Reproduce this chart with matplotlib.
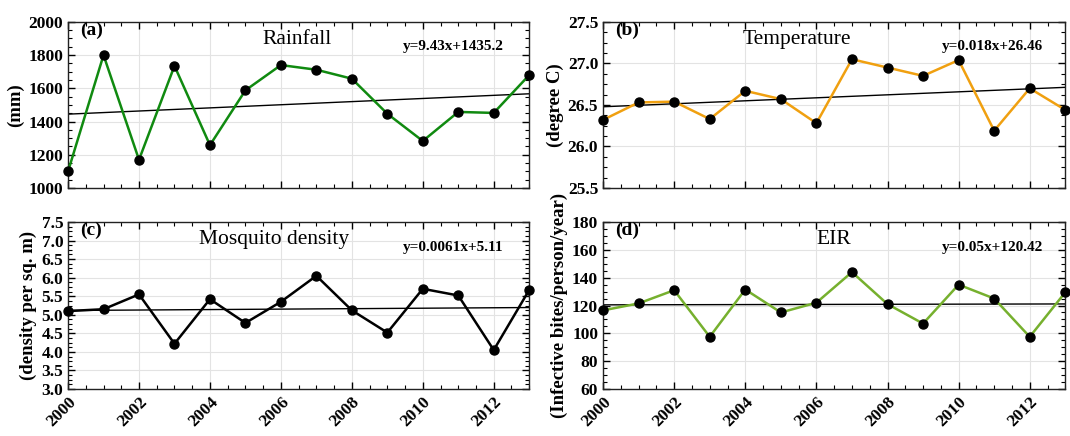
import numpy as np
import matplotlib
matplotlib.use("Agg")
import matplotlib.pyplot as plt
from matplotlib.ticker import MultipleLocator

plt.rcParams["font.family"] = ["Liberation Serif", "DejaVu Serif"]

# ==============================
# Data
# ==============================

years = np.arange(2000, 2014)

rainfall = [1100, 1800, 1170, 1735, 1258, 1588, 1740, 1712, 1658, 1447, 1283, 1458, 1452, 1680]
temperature = [26.32, 26.53, 26.54, 26.33, 26.67, 26.57, 26.28, 27.05, 26.95, 26.85, 27.04, 26.19, 26.70, 26.44]
mosquito = [5.10, 5.15, 5.55, 4.22, 5.42, 4.78, 5.35, 6.05, 5.12, 4.52, 5.70, 5.52, 4.05, 5.67]
eir = [116.5, 121.5, 131, 97.5, 131.5, 115, 122, 144, 121, 107, 135, 125, 97.5, 129.5]

# trend: y = slope * x + intercept, x = 1..14
trend_slopes = [9.43, 0.018, 0.0061, 0.05]
trend_intercepts = [1435.2, 26.46, 5.11, 120.42]
trend_labels = ["y=9.43x+1435.2", "y=0.018x+26.46", "y=0.0061x+5.11", "y=0.05x+120.42"]

titles = ["Rainfall", "Temperature", "Mosquito density", "EIR"]
panel_tags = ["(a)", "(b)", "(c)", "(d)"]
ylabels = ["(mm)", "(degree C)", "(density per sq. m)", "(Infective bites/person/year)"]
ylims = [(1000, 2000), (25.5, 27.5), (3.0, 7.5), (60, 180)]
ymajor = [200, 0.5, 0.5, 20]
line_colors = ["#108a10", "#f0a010", "black", "#76b02e"]

series = [rainfall, temperature, mosquito, eir]

# ==============================
# Layout
# ==============================

fig = plt.figure(figsize=(10.70, 4.36), dpi=100)

positions = [
    [0.0636, 0.5688, 0.431, 0.381],
    [0.5636, 0.5688, 0.432, 0.381],
    [0.0636, 0.1078, 0.431, 0.383],
    [0.5636, 0.1078, 0.432, 0.383],
]
title_x = [0.497, 0.42, 0.447, 0.5]
eq_x = [0.945, 0.952, 0.945, 0.952]

for i in range(4):
    ax = fig.add_axes(positions[i])
    vals = series[i]

    ax.grid(True, which="major", color="#e3e3e3", linewidth=0.8)
    ax.set_axisbelow(True)

    x_idx = np.arange(1, len(years) + 1)
    trend = trend_slopes[i] * x_idx + trend_intercepts[i]
    ax.plot(years, trend, color="black", linewidth=1.0, zorder=2)

    ax.plot(years, vals, color=line_colors[i], linewidth=1.8, zorder=3)
    ax.plot(years, vals, "o", color="black", markersize=6.5, zorder=4, clip_on=False)

    ax.set_xlim(2000, 2013)
    ax.set_ylim(*ylims[i])
    ax.xaxis.set_major_locator(MultipleLocator(2))
    ax.xaxis.set_minor_locator(MultipleLocator(0.5))
    ax.yaxis.set_major_locator(MultipleLocator(ymajor[i]))
    ax.yaxis.set_minor_locator(MultipleLocator(ymajor[i] / 4))

    ax.tick_params(which="both", direction="in", top=True, right=True)
    ax.tick_params(which="major", length=5, width=1)
    ax.tick_params(which="minor", length=3, width=0.8)
    for sp in ax.spines.values():
        sp.set_linewidth(1.0)
        sp.set_color("#222222")

    if i >= 2:
        ax.set_xticks(np.arange(2000, 2014, 2))
        ax.set_xticklabels([str(y) for y in range(2000, 2014, 2)],
                           rotation=45, fontweight="bold", fontsize=12.5)
        for lab in ax.get_xticklabels():
            lab.set_horizontalalignment("right")
            lab.set_rotation_mode("anchor")
    else:
        ax.set_xticklabels([])

    if i == 2:
        ax.set_yticks(np.arange(3.0, 7.6, 0.5))
        ax.set_yticklabels([f"{v:.1f}" for v in np.arange(3.0, 7.6, 0.5)])
    elif i == 1:
        ax.set_yticks(np.arange(25.5, 27.6, 0.5))
        ax.set_yticklabels([f"{v:.1f}" for v in np.arange(25.5, 27.6, 0.5)])
    for lab in ax.get_yticklabels():
        lab.set_fontweight("bold")
        lab.set_fontsize(12.5)

    ax.set_ylabel(ylabels[i], fontweight="bold", fontsize=13.5, labelpad=3)

    ax.text(0.026, 0.95, panel_tags[i], transform=ax.transAxes,
            fontweight="bold", fontsize=14, va="center", ha="left")
    ax.text(title_x[i], 0.895, titles[i], transform=ax.transAxes,
            fontsize=15.5, va="center", ha="center")
    ax.text(eq_x[i], 0.85, trend_labels[i], transform=ax.transAxes,
            fontweight="bold", fontsize=11, va="center", ha="right")

plt.savefig("out.png", dpi=100)
